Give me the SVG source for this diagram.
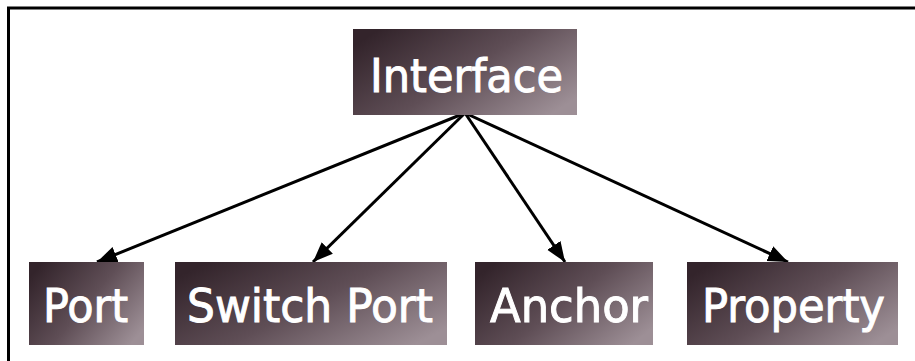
<svg xmlns="http://www.w3.org/2000/svg" width="915" height="361" viewBox="0 0 915 361">
<defs>
<linearGradient id="g" x1="0" y1="0.2" x2="1" y2="0.8">
<stop offset="0" stop-color="#33242b"/>
<stop offset="0.5" stop-color="#5f4e56"/>
<stop offset="1" stop-color="#9d8f96"/>
</linearGradient>
<marker id="ah" markerUnits="userSpaceOnUse" markerWidth="22" markerHeight="18" refX="20" refY="9" orient="auto">
<path d="M0,1 L20,9 L0,17 Z" fill="#000"/>
</marker>
</defs>
<style>
.box{fill:url(#g);}
.lbl{font-family:"DejaVu Sans Condensed","DejaVu Sans",sans-serif;font-size:47px;fill:#fff;stroke:#fff;stroke-width:0.9;}
.con{stroke:#000;stroke-width:3;fill:none;marker-end:url(#ah);}
</style>
<rect x="0" y="0" width="915" height="361" fill="#fff"/>
<rect x="8.5" y="8" width="920" height="370" fill="none" stroke="#000" stroke-width="3"/>
<g id="connectors">
<line class="con" x1="465" y1="113" x2="97" y2="262"/>
<line class="con" x1="465" y1="113" x2="313" y2="262"/>
<line class="con" x1="465" y1="113" x2="565" y2="262"/>
<line class="con" x1="465" y1="113" x2="788" y2="262"/>
</g>
<g id="interface">
<rect class="box" x="353" y="29" width="224" height="86"/>
<text class="lbl" x="370" y="92" textLength="193" lengthAdjust="spacingAndGlyphs">Interface</text>
</g>
<g id="port">
<rect class="box" x="29" y="262" width="115" height="83"/>
<text class="lbl" x="43" y="322" textLength="85" lengthAdjust="spacingAndGlyphs">Port</text>
</g>
<g id="switch-port">
<rect class="box" x="175" y="262" width="272" height="83"/>
<text class="lbl" x="187" y="322" textLength="246" lengthAdjust="spacingAndGlyphs">Switch Port</text>
</g>
<g id="anchor">
<rect class="box" x="475" y="262" width="178" height="83"/>
<text class="lbl" x="490" y="322" textLength="158" lengthAdjust="spacingAndGlyphs">Anchor</text>
</g>
<g id="property">
<rect class="box" x="687" y="262" width="211" height="83"/>
<text class="lbl" x="702" y="322" textLength="183" lengthAdjust="spacingAndGlyphs">Property</text>
</g>
</svg>
